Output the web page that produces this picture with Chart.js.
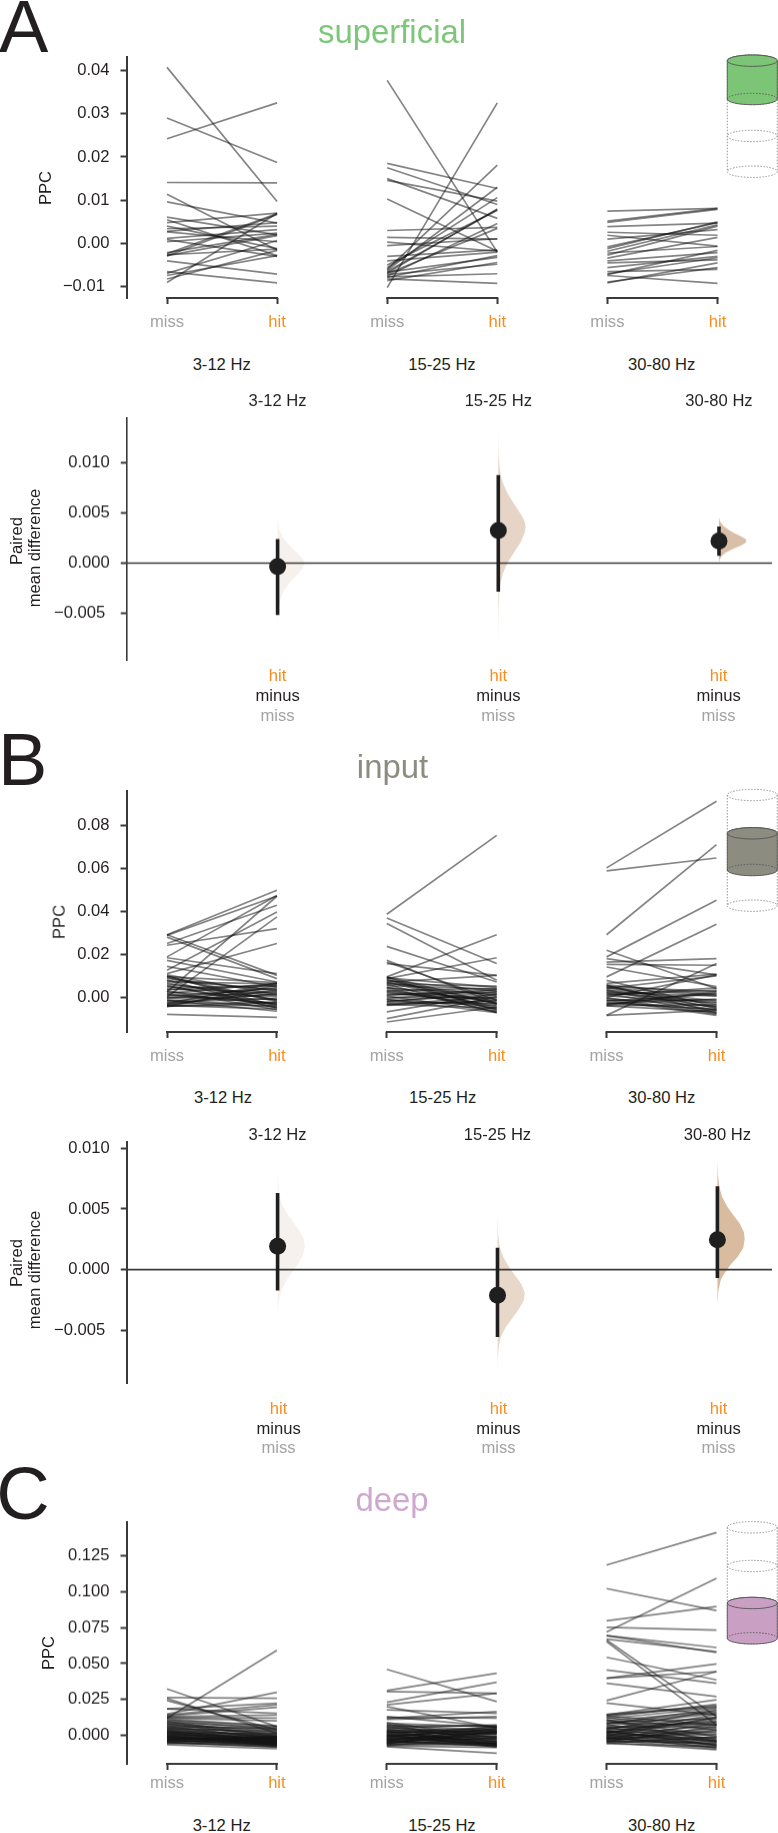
<!DOCTYPE html>
<html><head><meta charset="utf-8">
<script src="https://cdn.jsdelivr.net/npm/chart.js@4"></script>
<style>
html,body{margin:0;padding:0;background:#fff;overflow:hidden}
#page{position:relative;width:778px;height:1833px;overflow:hidden;font-family:"Liberation Sans",Arial,sans-serif;color:#231f20}
canvas{position:absolute;left:0}
.t{position:absolute;line-height:1;white-space:nowrap}
svg{position:absolute;left:0;top:0}
</style></head><body><div id="page"></div>
<script>
const pairLabels=['miss','hit','miss','hit','miss','hit'];
const freqLabels=['3-12 Hz','15-25 Hz','30-80 Hz'];
const ppcTicksA=[-0.01,0,0.01,0.02,0.03,0.04];
const ppcLabelsA=['−0.01 ','0.00','0.01','0.02','0.03','0.04'];
const ppcTicksB=[0,0.02,0.04,0.06,0.08];
const ppcLabelsB=['0.00','0.02','0.04','0.06','0.08'];
const ppcTicksC=[0,0.025,0.05,0.075,0.1,0.125];
const ppcLabelsC=['0.000','0.025','0.050','0.075','0.100','0.125'];
const diffTicks=[-0.005,0,0.005,0.01];
const diffLabels=['−0.005 ','0.000','0.005','0.010'];

// superficial
const supMiss1=[.0407,.029,.0242,.0141,.0114,.0096,.0061,.0055,.0048,.004,.0034,.0028,.0027,.0012,.0009,.0004,-.0021,-.0024,-.0026,-.0028,-.0029,-.004,-.0065,-.0069,-.0074,-.0082,-.009];
const supHit1=[.0097,.0187,.0325,.014,-.0015,.0047,.002,-.0028,.007,-.0012,.004,.0048,.0004,.0032,-.003,.0024,.0021,.0069,-.0013,.0018,.0067,-.0071,-.0091,.0007,-.0028,-.0016,.007];
const supMiss2=[.0377,-.0102,.0185,.0175,.015,.0146,.0103,.003,.0014,-.0005,.0003,-.003,-.004,-.005,-.0056,-.006,-.0062,-.0065,-.0068,-.007,-.0072,-.0075,-.0077,-.0082,-.0086,-.0066,-.0078];
const supHit2=[-.002,.0325,.0127,.009,.0058,.0098,-.0018,.0037,.001,.0011,-.0018,-.0015,-.002,.0077,.0106,.0181,.013,.0078,.008,.0035,-.0048,.0046,-.007,-.0092,-.0044,-.0032,-.0028];
const supMiss3=[.0075,.0052,.0049,.0039,.0026,.0019,.001,-.0008,-.0012,-.0018,-.0022,-.0027,-.0034,-.004,-.0045,-.0056,-.007,-.0072,-.0089,-.0074,-.0091,-.0065];
const supHit3=[.0081,.0081,.0079,.0047,.0019,-.0006,.0032,.0048,.005,.0043,-.0007,.004,.0014,-.0021,-.0038,-.003,-.0033,-.0016,-.0056,-.0092,-.0045,-.006];

// input
const inpMiss1=[.0291,.0288,.025,.0242,.0291,.028,.0188,.0126,.0184,.0172,.0144,.011,.0025,.0002,.0105,.01,.0096,.0092,.0088,.008,.0072,.0066,.006,.0052,.0045,.0038,.003,.0024,.0018,.0012,.0006,0,-.0006,-.0012,-.0018,-.0024,-.0028,-.0032,-.0036,-.004,-.0043,-.0079,.0098,.0078,.0055,.0035,.0015,-.0003,-.0015,-.003,-.0038,-.0042];
const inpHit1=[.0498,.0471,.0428,.0319,.0102,.0087,.0474,.0397,.011,.0071,.0048,.025,.047,.0374,.0012,-.0042,.0068,-.002,.003,-.0051,.0062,-.0012,.0008,-.0034,.0052,.0022,-.0058,.0002,.0065,-.0028,.004,-.001,.0026,-.0046,.0014,-.0006,.0066,-.0022,.0034,-.0038,.0056,-.0093,-.0015,.0035,-.0048,.0058,-.0032,.0045,-.0065,.0018,-.0055,-.0025];
const inpMiss2=[.0386,.0369,.0343,.0237,.0172,.0164,.0157,.0095,.0087,.0071,-.0115,-.0099,-.0068,.0095,.009,.0085,.0078,.0072,.0066,.006,.0054,.0048,.0042,.0036,.003,.0024,.0018,.0012,.0006,0,-.0006,-.0012,-.0018,-.0024,-.003,-.0035,.0092,.008,.0062,.0045,.0027,.0009,-.0009,-.0021,-.0033,-.0038];
const inpHit2=[.0753,.0157,.0079,.0071,-.0029,-.0014,.0102,.0291,.0184,.0102,-.0045,.0002,.0017,-.0032,.0046,-.0062,.0028,-.0048,.0008,-.0072,.0038,-.0025,.0016,-.0054,.0042,-.0036,-.0012,.0024,-.0066,-.0002,.0034,-.004,.0012,-.0028,-.0018,.0004,-.0058,-.003,.0052,-.0068,-.0008,.0036,-.0072,.0025,-.005,-.0015];
const inpMiss3=[.0602,.0588,.0291,.0219,.0188,.018,.0164,.0153,.0141,.0095,.0079,.0065,-.0084,-.0084,.0058,.0054,.005,.0046,.0042,.0036,.003,.0024,.0018,.0012,.0006,0,-.0006,-.0012,-.0018,-.0024,-.003,-.0036,-.004,.0056,.0044,.0033,.0021,.0009,-.0003,-.0015,-.0027,-.0033,-.0039];
const inpHit3=[.0912,.0648,.071,.004,.0451,.0104,.018,.0149,.005,.034,-.0045,.0108,.0157,-.006,.0012,-.0052,.0026,-.0034,.01,-.0016,-.0062,.0005,-.0075,.0033,-.0026,.0104,-.0042,-.0084,.0016,-.0055,-.0008,.0022,-.0068,-.0072,.0008,-.0048,-.0022,.0044,-.0078,-.0012,-.0058,.0028,-.0035];

// deep
const deepMiss1=[.0119,.0323,.0263,.0256,.0242,.0184,.0184,.0147,.0142,.0135,.013,.0125,.012,.0112,.0105,.01,.0095,.009,.0085,.008,.0075,.007,.0065,.006,.0056,.0052,.0048,.0044,.004,.0036,.0032,.0028,.0024,.002,.0016,.0012,.0008,.0004,0,-.0004,-.0008,-.0012,-.0016,-.002,-.0024,-.0028,-.0032,-.0036,-.004,-.0044,-.0048,-.0052,-.0058,-.0066,.0028,.0018,.0006,-.0002,-.001,-.0018,-.0026,-.0034,-.0042,-.005,-.0014,-.003];
const deepHit1=[.0593,.006,.0258,.0014,.0037,.0223,.0153,.03,.0212,.0195,.014,.012,.01,.0065,.006,.004,-.0005,.0052,.0021,-.0012,.0035,.0008,-.003,.0048,-.002,.0015,-.0042,.0028,-.0008,-.005,.0002,-.0035,-.0015,-.006,.001,-.0025,-.0048,-.0005,-.0066,-.0012,-.0038,-.0072,-.002,-.0055,-.003,-.0078,-.001,-.0045,-.0062,-.0025,-.0084,-.0052,-.007,-.0095,-.0045,-.0062,-.003,-.0075,-.004,-.0058,-.002,-.0068,-.0035,-.0082,-.0052,-.0015];
const deepMiss2=[.046,.0312,.0305,.023,.0212,.02,.0177,.013,.0125,.0118,.011,-.008,.0088,.0082,.0076,.007,.0065,.006,.0055,.005,.0045,.004,.0036,.0032,.0028,.0024,.002,.0016,.0012,.0008,.0004,0,-.0004,-.0008,-.0012,-.0016,-.002,-.0024,-.0028,-.0032,-.0036,-.004,-.0044,-.0048,-.0052,-.0056,-.006,-.0065,-.007,-.0075,.003,.0018,.0006,-.0002,-.001,-.0018,-.0026,-.0034,-.0042,-.005,-.0058,-.0068];
const deepHit2=[.0235,.0433,.0293,.037,.0293,.005,.0153,.006,.012,.0165,.013,-.0126,-.002,.0058,-.005,.003,.0065,-.0035,.0012,.0072,-.0062,.0022,-.0012,.0048,-.0072,.0005,.0038,-.0045,.0058,-.0025,-.0082,.0015,.0042,-.0055,-.001,.0062,-.0068,.002,-.0032,.0032,-.0078,-.0005,.005,-.006,.0008,-.0042,.0026,-.007,-.0018,-.0085,-.0065,.0025,-.0045,-.0072,.004,-.003,-.0058,.0012,-.0075,-.0015,.0028,-.0052];
const deepMiss3=[.1188,.1023,.0798,.0721,.0753,.0695,.0695,.067,.0665,.0653,.0544,.0456,.0398,.0398,.0363,.0242,.0225,.0142,.0138,.0133,.0128,.0122,.0115,.0108,.01,.0092,.0085,.0078,.0072,.0066,.006,.0055,.005,.0045,.004,.0035,.003,.0026,.0022,.0018,.0014,.001,.0006,.0002,-.0002,-.0006,-.001,-.0014,-.0018,-.0022,-.0026,-.003,-.0034,-.0038,-.0042,-.0046,-.005,-.0055,-.006,.0145,.0105,.0082,.0048,.0028,.0012,-.0004,-.0016,-.0028,-.0044];
const deepHit3=[.1414,.087,.0898,.1095,.0733,.0612,.0577,.0584,.013,.0072,.0386,.0363,.0498,.0444,.027,.0444,.014,.0247,.0198,.0072,.0215,.0035,.0192,-.001,.0168,.0115,.0072,.0185,-.003,.0152,.0055,-.0052,.0128,.0018,.0176,-.0068,.0105,.0008,-.004,.0092,.0145,-.0022,-.0075,.007,.0002,.0125,-.0088,.0048,-.0015,-.0062,.0085,-.0032,-.0095,.0028,-.0045,.0062,-.0102,-.0012,-.0078,.0205,-.0045,.016,.0095,-.0072,.012,-.0038,-.0085,.0035,-.0058];

// paired mean differences and their 95% intervals
const diffMeanA=[-0.00035,0.00325,0.0022];
const diffLowA=[-0.0052,-0.00285,0.00072];
const diffHighA=[0.0024,0.0088,0.00365];
const diffMeanB=[0.00192,-0.00212,0.00247];
const diffLowB=[-0.00173,-0.00555,-0.00069];
const diffHighB=[0.00632,0.00181,0.00687];

// bootstrap densities: value, relative density
const vA1y=[.0047,.0035,.0025,.0018,.001,.0005,0,-.0005,-.001,-.002,-.003,-.004,-.005,-.0063];
const vA1d=[0,.04,.2,.42,.72,.9,1,.92,.78,.42,.18,.07,.02,0];
const vA2y=[.0135,.011,.0095,.0088,.008,.007,.006,.005,.0042,.0036,.003,.002,.001,0,-.001,-.002,-.003,-.005,-.0083];
const vA2d=[0,.01,.05,.09,.17,.33,.56,.8,.96,1,.96,.8,.56,.33,.17,.08,.03,.01,0];
const vA3y=[.0046,.0042,.0037,.0033,.003,.0027,.0024,.0022,.002,.0017,.0014,.001,.0007,.0003,0];
const vA3d=[0,.03,.16,.36,.55,.78,.97,1,.96,.76,.5,.22,.1,.02,0];
const vB1y=[.0097,.0075,.0063,.0055,.0047,.004,.0032,.0025,.0019,.0012,.0005,-.0003,-.001,-.0017,-.0025,-.0033,-.004];
const vB1d=[0,.01,.05,.14,.32,.55,.8,.96,1,.94,.76,.5,.3,.14,.05,.01,0];
const vB2y=[.0046,.003,.0018,.001,.0003,-.0005,-.0012,-.0019,-.0025,-.0032,-.004,-.0047,-.0055,-.0063,-.0072,-.0086];
const vB2d=[0,.02,.09,.22,.4,.65,.88,1,.97,.8,.55,.32,.13,.05,.01,0];
const vB3y=[.009,.0078,.0068,.006,.0052,.0045,.0038,.0031,.0025,.0018,.0011,.0004,-.0003,-.0008,-.0018,-.0029];
const vB3d=[0,.02,.07,.17,.36,.58,.82,.97,1,.95,.76,.48,.26,.13,.03,0];

const GRAY='#a3a3a3',ORANGE='#f78d1e',INK='#231f20',AXIS='#3a3a3a';
const FONT='"Liberation Sans", Arial, sans-serif', FS=16.6;
const page=document.getElementById('page');

function text(s,x,y,opt={}){
  const d=document.createElement('div');d.className='t';d.textContent=s;
  d.style.left=x+'px';d.style.top=y+'px';d.style.fontSize=(opt.size||FS)+'px';d.style.color=opt.color||INK;
  d.style.transform=(opt.left?'translate(0,-50%)':'translate(-50%,-50%)')+(opt.rot?' rotate(-90deg)':'');
  page.appendChild(d);
}
function mkCanvas(top,h){
  const c=document.createElement('canvas');c.width=778;c.height=h;c.style.top=top+'px';c.style.width='778px';c.style.height=h+'px';
  page.appendChild(c);return c;
}
const bracket={id:'bracket',afterDraw(ch){
  const x=ch.scales.x,y=ch.chartArea.bottom,c=ch.ctx;c.save();c.strokeStyle=AXIS;c.lineWidth=2;
  for(let i=0;i<6;i+=2){c.beginPath();c.moveTo(x.getPixelForValue(i)-1,y);c.lineTo(x.getPixelForValue(i+1)+1,y);c.stroke();}
  c.restore();
}};
function yAxis(min,max,ticks,labels,w,pad){
  return {type:'linear',min,max,bounds:'data',
    afterBuildTicks:s=>{s.ticks=ticks.map(v=>({value:v}));},
    afterFit:s=>{s.width=w;},
    border:{display:true,width:pad.bw,color:AXIS},
    grid:{drawOnChartArea:false,drawTicks:true,tickLength:6,tickWidth:2,tickColor:AXIS},
    ticks:{color:INK,font:{family:FONT,size:FS},padding:pad.p,autoSkip:false,callback:(v,i)=>labels[i]}};
}
const HEAD=30;
function pairedChart(cfg){
  const top=cfg.top-HEAD,h=cfg.bottom-top+40;
  const pts=[[cfg.m1,cfg.h1],[cfg.m2,cfg.h2],[cfg.m3,cfg.h3]];
  const datasets=[];
  pts.forEach((p,g)=>p[0].forEach((m,i)=>datasets.push({
    data:[{x:g*2,y:m},{x:g*2+1,y:p[1][i]}],borderColor:'rgba(20,20,20,0.52)',borderWidth:1.7,pointRadius:0,fill:false,tension:0})));
  new Chart(mkCanvas(top,h),{type:'line',data:{datasets},plugins:[bracket],options:{
    responsive:false,animation:false,events:[],
    layout:{autoPadding:false,padding:{top:HEAD,left:0,right:0,bottom:0}},
    plugins:{legend:{display:false},tooltip:{enabled:false},title:{display:false}},
    scales:{
      x:{type:'linear',bounds:'data',min:(126.5-cfg.x0)/cfg.step,max:(778-cfg.x0)/cfg.step,
        afterBuildTicks:s=>{s.ticks=pairLabels.map((_,i)=>({value:i}));},
        afterFit:s=>{s.height=40;},
        border:{display:false},
        grid:{drawOnChartArea:false,drawTicks:true,tickLength:6,tickWidth:2,tickColor:AXIS},
        ticks:{font:{family:FONT,size:FS},padding:cfg.xp,autoSkip:false,maxRotation:0,minRotation:0,
          color:c=>c.index%2?ORANGE:GRAY,callback:(v,i)=>pairLabels[i]}},
      y:yAxis(cfg.ymin,cfg.ymax,cfg.ticks,cfg.labels,126.5,{bw:2,p:11})
    }}});
}
function diffChart(cfg){
  const xh=cfg.xh,top=cfg.top-xh,foot=30,h=cfg.bottom-top+foot;
  const datasets=[];
  datasets.push({label:'mean',data:cfg.mean.map((v,g)=>({x:g,y:v})),showLine:false,pointRadius:8.5,pointBackgroundColor:'#1f1f1f',pointBorderWidth:0,order:0});
  cfg.mean.forEach((_,g)=>datasets.push({data:[{x:g,y:cfg.lo[g]},{x:g,y:cfg.hi[g]}],borderColor:'#1f1f1f',borderWidth:3.6,pointRadius:0,borderCapStyle:'butt',order:1}));
  const xmin=(126.8-cfg.x0)/cfg.step,xmax=(772-cfg.x0)/cfg.step;
  datasets.push({data:[{x:xmin,y:0},{x:xmax,y:0}],borderColor:'#3a3a3a',borderWidth:1.6,pointRadius:0,order:2});
  cfg.v.forEach((vv,g)=>datasets.push({
    data:vv[0].map((y,i)=>({x:g+vv[1][i]*0.124,y})),
    borderWidth:0,pointRadius:0,fill:'shape',backgroundColor:cfg.colors[g],borderColor:'transparent',order:3}));
  new Chart(mkCanvas(top,h),{type:'line',data:{datasets},options:{
    responsive:false,animation:false,events:[],
    layout:{autoPadding:false,padding:{top:0,left:0,right:6,bottom:foot}},
    plugins:{legend:{display:false},tooltip:{enabled:false},title:{display:false}},
    scales:{
      x:{type:'linear',position:'top',bounds:'data',min:xmin,max:xmax,
        afterBuildTicks:s=>{s.ticks=freqLabels.map((_,i)=>({value:i}));},
        afterFit:s=>{s.height=xh;},
        border:{display:false},grid:{display:false,drawTicks:false},
        ticks:{color:INK,font:{family:FONT,size:FS},padding:cfg.xp,autoSkip:false,maxRotation:0,minRotation:0,callback:(v,i)=>freqLabels[i]}},
      y:yAxis(cfg.ymin,cfg.ymax,diffTicks,diffLabels,126.8,{bw:cfg.bw,p:11})
    }}});
}

// A
pairedChart({top:56.7,bottom:298,x0:167,step:110.1,ymin:-0.0126,ymax:0.0431,ticks:ppcTicksA,labels:ppcLabelsA,xp:8.5,
  m1:supMiss1,h1:supHit1,m2:supMiss2,h2:supHit2,m3:supMiss3,h3:supHit3});
diffChart({top:418.3,bottom:660,xh:30,xp:7,x0:277.6,step:220.7,ymin:-0.00968,ymax:0.01449,mean:diffMeanA,lo:diffLowA,hi:diffHighA,bw:1.6,
  v:[[vA1y,vA1d],[vA2y,vA2d],[vA3y,vA3d]],colors:['#f7f1ed','#e6d5c7','#d9bfa8']});
// B
pairedChart({top:790.7,bottom:1031.7,x0:167,step:109.9,ymin:-0.01614,ymax:0.09595,ticks:ppcTicksB,labels:ppcLabelsB,xp:8,
  m1:inpMiss1,h1:inpHit1,m2:inpMiss2,h2:inpHit2,m3:inpMiss3,h3:inpHit3});
diffChart({top:1141.7,bottom:1382.7,xh:30,xp:-3,x0:277.6,step:219.9,ymin:-0.00935,ymax:0.01052,mean:diffMeanB,lo:diffLowB,hi:diffHighB,bw:2,
  v:[[vB1y,vB1d],[vB2y,vB2d],[vB3y,vB3d]],colors:['#f7f1ed','#e8d8ca','#d9bba0']});
// C
pairedChart({top:1522.3,bottom:1764,x0:167,step:109.9,ymin:-0.02,ymax:0.1487,ticks:ppcTicksC,labels:ppcLabelsC,xp:3.8,
  m1:deepMiss1,h1:deepHit1,m2:deepMiss2,h2:deepHit2,m3:deepMiss3,h3:deepHit3});

// panel letters and titles
text('A',-1,26.5,{size:74,left:true});
text('B',-2,760.2,{size:74,left:true});
text('C',-3.7,1493.5,{size:74,left:true});
text('superficial',392,32,{size:32.9,color:'#7dc67a'});
text('input',392.5,767,{size:32.9,color:'#8c8c80'});
text('deep',392,1500,{size:32.9,color:'#cfa8cf'});
// axis titles
text('PPC',46,187.7,{rot:true});
text('PPC',60,921.7,{rot:true});
text('PPC',49,1653,{rot:true});
text('Paired',16.5,541,{rot:true});
text('mean difference',35,547.7,{rot:true});
text('Paired',16.5,1263,{rot:true});
text('mean difference',35,1270,{rot:true});
// frequency labels under paired panels
[[365,[221.7,442,661.7]],[1098.3,[223,442.7,661.7]],[1826,[221.7,442,661.7]]].forEach(r=>{
  r[1].forEach((x,i)=>text(freqLabels[i],x,r[0]));
});
// contrast labels under difference panels
[[676,696,715.7,[277.6,498.3,718.6]],[1409,1428.7,1448,[278.6,498.5,718.6]]].forEach(r=>{
  r[3].forEach(x=>{text('hit',x,r[0],{color:ORANGE});text('minus',x,r[1]);text('miss',x,r[2],{color:GRAY});});
});

// layer cylinders
function cylinder(c,fillFrom,fill){
  const cx=752.3,rx=25,ry=5.7;
  const dash='stroke="#8a8a8a" stroke-width="0.9" stroke-dasharray="1.5 1.5" fill="none"';
  let s='';
  s+=`<path d="M${cx-rx} ${c[0]}V${c[3]}M${cx+rx} ${c[0]}V${c[3]}" ${dash}/>`;
  c.forEach(y=>{s+=`<ellipse cx="${cx}" cy="${y}" rx="${rx}" ry="${ry}" ${dash}/>`;});
  const a=c[fillFrom],b=c[fillFrom+1];
  s+=`<path d="M${cx-rx} ${a}V${b}A${rx} ${ry} 0 0 0 ${cx+rx} ${b}V${a}A${rx} ${ry} 0 0 0 ${cx-rx} ${a}Z" fill="${fill}" stroke="#555" stroke-width="0.9"/>`;
  s+=`<ellipse cx="${cx}" cy="${a}" rx="${rx}" ry="${ry}" fill="${fill}" stroke="#555" stroke-width="0.9"/>`;
  s+=`<path d="M${cx-rx} ${b}A${rx} ${ry} 0 0 1 ${cx+rx} ${b}" stroke="#555" stroke-width="0.9" stroke-dasharray="1.5 1.5" fill="none"/>`;
  return s;
}
const svg=document.createElementNS('http://www.w3.org/2000/svg','svg');
svg.setAttribute('width',778);svg.setAttribute('height',1833);
svg.innerHTML=cylinder([60.7,99,136,171.7],0,'#7cc576')+cylinder([795,833.3,870,905.7],1,'#8c8c80')+cylinder([1527.3,1566,1603,1638.3],2,'#c9a0c4');
page.appendChild(svg);
</script></body></html>
